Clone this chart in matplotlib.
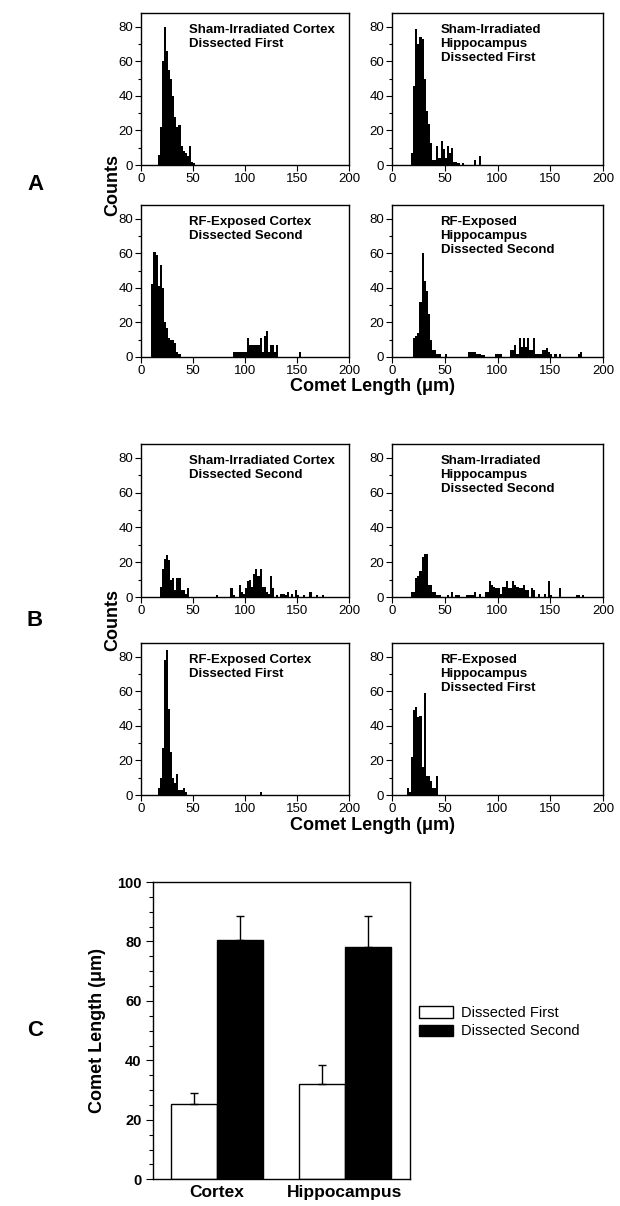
import matplotlib
matplotlib.use('Agg')
import matplotlib.pyplot as plt
from matplotlib.patches import Patch
from matplotlib.ticker import MultipleLocator

plt.rcParams['font.family'] = ['Liberation Sans', 'DejaVu Sans']

# ---------------- data ----------------
BIN_W = 2  # histogram bin width (um)

# Panel A
sham_ctx_first_bins = [16, 18, 20, 22, 24, 26, 28, 30, 32, 34, 36, 38, 40, 42, 44, 46, 48, 50]
sham_ctx_first_counts = [6, 22, 60, 80, 66, 55, 50, 40, 28, 22, 23, 11, 8, 7, 5, 11, 2, 1]

sham_hip_first_bins = [18, 20, 22, 24, 26, 28, 30, 32, 34, 36, 38, 40, 42, 44, 46, 48, 50, 52,
                       54, 56, 58, 60, 62, 66, 78, 82]
sham_hip_first_counts = [7, 46, 79, 70, 74, 73, 50, 31, 24, 13, 3, 3, 11, 4, 14, 9, 4, 11,
                         7, 10, 2, 2, 1, 1, 3, 5]

rf_ctx_second_bins = [10, 12, 14, 16, 18, 20, 22, 24, 26, 28, 30, 32, 34, 36,
                      88, 90, 92, 94, 96, 98, 100, 102, 104, 106, 108, 110, 112, 114,
                      116, 118, 120, 122, 124, 126, 128, 130, 152]
rf_ctx_second_counts = [42, 61, 59, 41, 53, 40, 20, 17, 11, 10, 10, 8, 3, 2,
                        3, 3, 3, 3, 3, 3, 3, 11, 7, 7, 7, 7, 7, 11,
                        3, 12, 15, 3, 7, 7, 3, 7, 3]

rf_hip_second_bins = [20, 22, 24, 26, 28, 30, 32, 34, 36, 38, 40, 42, 44, 50,
                      72, 74, 76, 78, 80, 82, 84, 86, 98, 100, 102,
                      112, 114, 116, 118, 120, 122, 124, 126, 128, 130, 132, 134,
                      136, 138, 140, 142, 144, 146, 148, 150, 154, 158, 176, 178]
rf_hip_second_counts = [11, 12, 14, 32, 60, 44, 38, 25, 10, 4, 4, 2, 2, 2,
                        3, 3, 3, 3, 2, 2, 1, 1, 2, 2, 2,
                        4, 4, 7, 2, 11, 6, 11, 6, 11, 4, 4, 11,
                        2, 2, 2, 4, 4, 5, 3, 2, 2, 2, 2, 3]

# Panel B
sham_ctx_second_bins = [18, 20, 22, 24, 26, 28, 30, 32, 34, 36, 38, 40, 42, 44,
                        72, 86, 88, 94, 96, 98, 100, 102, 104, 106, 108, 110, 112, 114,
                        116, 118, 120, 122, 124, 126, 130, 134, 136, 138, 140, 144, 148,
                        150, 156, 162, 168, 174]
sham_ctx_second_counts = [6, 16, 22, 24, 21, 10, 11, 4, 11, 11, 4, 4, 2, 5,
                          1, 5, 1, 7, 3, 2, 5, 9, 10, 6, 13, 16, 12, 16,
                          6, 6, 3, 2, 12, 5, 1, 2, 2, 1, 3, 2, 4,
                          1, 1, 3, 1, 1]

sham_hip_second_bins = [18, 20, 22, 24, 26, 28, 30, 32, 34, 36, 38, 40, 42, 44, 52, 56, 60, 62,
                        70, 72, 74, 76, 78, 82, 88, 90, 92, 94, 96, 98, 100, 102, 104, 106,
                        108, 110, 112, 114, 116, 118, 120, 122, 124, 126, 128, 132, 134,
                        138, 144, 148, 150, 158, 174, 176, 180]
sham_hip_second_counts = [3, 3, 11, 12, 15, 23, 25, 25, 7, 7, 3, 3, 1, 1, 1, 3, 1, 1,
                          1, 1, 1, 1, 3, 2, 3, 3, 9, 7, 6, 5, 5, 2, 6, 6,
                          9, 5, 5, 9, 7, 6, 5, 5, 7, 4, 4, 5, 4,
                          2, 2, 9, 1, 5, 1, 1, 1]

rf_ctx_first_bins = [16, 18, 20, 22, 24, 26, 28, 30, 32, 34, 36, 38, 40, 42, 114]
rf_ctx_first_counts = [4, 10, 27, 78, 84, 50, 25, 10, 7, 12, 3, 3, 4, 2, 2]

rf_hip_first_bins = [14, 16, 18, 20, 22, 24, 26, 28, 30, 32, 34, 36, 38, 40, 42]
rf_hip_first_counts = [4, 2, 22, 49, 51, 45, 46, 16, 59, 11, 11, 8, 4, 4, 11]

# Panel C
groups = ['Cortex', 'Hippocampus']
first_means = [25.3, 32.1]
first_err = [3.8, 6.5]
second_means = [80.6, 78.0]
second_err = [8.1, 10.7]

# ---------------- layout ----------------
W, H = 620, 1206
fig = plt.figure(figsize=(W / 100, H / 100), dpi=100)


def rect(x0, x1, y0, y1):
    return [x0 / W, 1 - y1 / H, (x1 - x0) / W, (y1 - y0) / H]


def hist_panel(r, bins, counts, title):
    ax = fig.add_axes(r)
    ax.bar(bins, counts, width=BIN_W, align='edge', color='black', linewidth=0)
    ax.set_xlim(0, 200)
    ax.set_ylim(0, 88)
    ax.set_xticks([0, 50, 100, 150, 200])
    ax.set_yticks([0, 20, 40, 60, 80])
    ax.yaxis.set_minor_locator(MultipleLocator(10))
    ax.tick_params(direction='out', length=4, width=0.8, labelsize=9.5, pad=1.5)
    ax.tick_params(which='minor', direction='out', length=2, width=0.8)
    for s in ax.spines.values():
        s.set_linewidth(1.0)
    ax.text(0.23, 0.925, title, transform=ax.transAxes, va='top', ha='left',
            fontsize=9.5, fontweight='bold')
    return ax


LX = (141, 349)
RX = (392, 603)
rows = {'A1': (13, 165), 'A2': (205, 357), 'B1': (444, 597), 'B2': (643, 795)}

hist_panel(rect(*LX, *rows['A1']), sham_ctx_first_bins, sham_ctx_first_counts,
           'Sham-Irradiated Cortex\nDissected First')
hist_panel(rect(*RX, *rows['A1']), sham_hip_first_bins, sham_hip_first_counts,
           'Sham-Irradiated\nHippocampus\nDissected First')
hist_panel(rect(*LX, *rows['A2']), rf_ctx_second_bins, rf_ctx_second_counts,
           'RF-Exposed Cortex\nDissected Second')
hist_panel(rect(*RX, *rows['A2']), rf_hip_second_bins, rf_hip_second_counts,
           'RF-Exposed\nHippocampus\nDissected Second')

hist_panel(rect(*LX, *rows['B1']), sham_ctx_second_bins, sham_ctx_second_counts,
           'Sham-Irradiated Cortex\nDissected Second')
hist_panel(rect(*RX, *rows['B1']), sham_hip_second_bins, sham_hip_second_counts,
           'Sham-Irradiated\nHippocampus\nDissected Second')
hist_panel(rect(*LX, *rows['B2']), rf_ctx_first_bins, rf_ctx_first_counts,
           'RF-Exposed Cortex\nDissected First')
hist_panel(rect(*RX, *rows['B2']), rf_hip_first_bins, rf_hip_first_counts,
           'RF-Exposed\nHippocampus\nDissected First')

# figure-level labels for A and B
for ylab_center, xlab_y, letter in [((165 + 205) / 2, 387, 'A'), ((597 + 643) / 2, 825, 'B')]:
    fig.text(113 / W, 1 - ylab_center / H, 'Counts', rotation=90, ha='center', va='center',
             fontsize=13, fontweight='bold')
    fig.text(372 / W, 1 - xlab_y / H, 'Comet Length (μm)', ha='center', va='center',
             fontsize=13, fontweight='bold')
    fig.text(35 / W, 1 - ylab_center / H, letter, ha='center', va='center',
             fontsize=16, fontweight='bold')

# ---------------- panel C ----------------
axc = fig.add_axes(rect(152.7, 410, 882, 1179.3))
bw = 0.36
xs = list(range(len(groups)))
x1 = [x - bw / 2 for x in xs]
x2 = [x + bw / 2 for x in xs]
axc.bar(x1, first_means, width=bw, color='white', edgecolor='black', linewidth=1.0,
        label='Dissected First', zorder=2)
axc.bar(x2, second_means, width=bw, color='black', edgecolor='black', linewidth=1.0,
        label='Dissected Second', zorder=2)
axc.errorbar(x1, first_means, yerr=[[0] * len(groups), first_err], fmt='none', ecolor='black',
             elinewidth=1.0, capsize=3, capthick=1.0, zorder=3)
axc.errorbar(x2, second_means, yerr=[[0] * len(groups), second_err], fmt='none', ecolor='black',
             elinewidth=1.0, capsize=3, capthick=1.0, zorder=3)
axc.set_xlim(-0.505, 1.51)
axc.set_ylim(0, 100)
axc.set_xticks(xs)
axc.set_xticklabels(groups, fontsize=12.5, fontweight='bold')
axc.tick_params(axis='x', length=0, pad=4)
axc.set_yticks([0, 20, 40, 60, 80, 100])
axc.yaxis.set_minor_locator(MultipleLocator(5))
axc.tick_params(axis='y', direction='out', length=5, width=0.8, labelsize=10.5, pad=3)
axc.tick_params(axis='y', which='minor', direction='out', length=3, width=0.8)
for lab in axc.get_yticklabels():
    lab.set_fontweight('bold')
for s in axc.spines.values():
    s.set_linewidth(1.0)
axc.set_ylabel('Comet Length (μm)', fontsize=13, fontweight='bold', labelpad=8)

handles = [Patch(facecolor='white', edgecolor='black', linewidth=1.0, label='Dissected First'),
           Patch(facecolor='black', edgecolor='black', linewidth=1.0, label='Dissected Second')]
fig.legend(handles=handles, loc='upper left', bbox_to_anchor=(419 / W, 1 - 1006 / H),
           frameon=False, fontsize=10.5, handlelength=2.3, handleheight=0.85,
           handletextpad=0.6, labelspacing=0.3, borderpad=0, borderaxespad=0)

fig.text(35 / W, 1 - 1030 / H, 'C', ha='center', va='center', fontsize=16, fontweight='bold')

fig.savefig('out.png', dpi=100)
